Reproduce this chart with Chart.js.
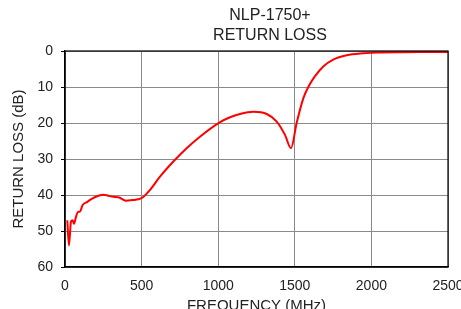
<!DOCTYPE html>
<html>
<head>
<meta charset="utf-8">
<script src="https://cdn.jsdelivr.net/npm/chart.js@4"></script>
<style>
  html,body{margin:0;padding:0;background:#fff;}
  #wrap{width:461px;height:309px;}
</style>
</head>
<body>
<div id="wrap"><canvas id="rl"></canvas></div>
<script>
// ---- data ----
const titleLines = ["NLP-1750+", "RETURN LOSS"];
const freqMHz = [15, 26, 39, 50, 59, 72, 85, 98, 115, 146, 174, 218, 250, 283, 315, 348, 398, 442, 479, 507, 555, 620,
  707, 794, 881, 1007, 1077, 1142, 1229, 1317, 1382, 1436, 1475, 1512, 1556, 1588, 1632, 1686, 1751, 1839, 1947, 2045, 2200, 2350, 2500];
const returnLossDb = [47, 54, 47.4, 47, 48, 46, 44.7, 44.6, 42.8, 41.9, 41.1, 40.2, 39.9, 40.2, 40.5, 40.6, 41.6, 41.4, 41.2, 40.7, 38.6, 34.9,
  30.7, 27.0, 23.8, 19.9, 18.4, 17.5, 16.9, 17.5, 19.6, 23.3, 27.0, 20.0, 13.1, 10.0, 7.0, 4.3, 2.4, 1.2, 0.65, 0.4, 0.32, 0.3, 0.3];
const xTicks = [0, 500, 1000, 1500, 2000, 2500];
const yTicks = [0, 10, 20, 30, 40, 50, 60];

const FONT = "'Liberation Sans', Arial, Helvetica, sans-serif";

// title + black frame drawn by hand
const framePlugin = {
  id: "frame",
  afterDraw(chart){
    const {ctx, chartArea:a} = chart;
    ctx.save();
    ctx.strokeStyle = "#000";
    ctx.lineWidth = 1.2;
    ctx.strokeRect(a.left, a.top, a.right - a.left, a.bottom - a.top);
    ctx.fillStyle = "#222";
    ctx.font = "16px " + FONT;
    ctx.textAlign = "center";
    ctx.textBaseline = "middle";
    ctx.fillText(titleLines[0], 270, 16);
    ctx.fillText(titleLines[1], 270, 36);
    ctx.restore();
  }
};

new Chart(document.getElementById("rl"), {
  type: "line",
  data: {
    datasets: [{
      data: freqMHz.map((f, i) => ({x: f, y: returnLossDb[i]})),
      borderColor: "#ff0000",
      borderWidth: 2,
      pointRadius: 0,
      cubicInterpolationMode: "monotone",
      fill: false
    }]
  },
  options: {
    responsive: true,
    maintainAspectRatio: false,
    animation: false,
    layout: { padding: { top: 51, right: 13, left: 0, bottom: 0 } },
    plugins: { legend: { display: false }, tooltip: { enabled: false } },
    scales: {
      x: {
        type: "linear",
        min: 0, max: 2500,
        afterBuildTicks: s => { s.ticks = xTicks.map(v => ({value: v})); },
        afterFit: s => { s.height = 42; s.paddingLeft = 0; s.paddingRight = 0; },
        grid: { color: "#8a8a8a", lineWidth: 1, drawTicks: false },
        border: { color: "#000", width: 1.2 },
        ticks: { color: "#222", font: { family: FONT, size: 14 }, padding: 11, maxRotation: 0,
                 callback: v => String(v) },
        title: { display: true, text: "FREQUENCY (MHz)", color: "#222",
                 font: { family: FONT, size: 15 }, padding: { top: 0, bottom: -6 } }
      },
      y: {
        reverse: true,
        min: 0, max: 60,
        afterBuildTicks: s => { s.ticks = yTicks.map(v => ({value: v})); },
        afterFit: s => { s.width = 65; },
        grid: { color: "#8a8a8a", lineWidth: 1, tickLength: 4, tickColor: "#000" },
        border: { color: "#000", width: 1.2 },
        ticks: { color: "#222", font: { family: FONT, size: 14 }, padding: 8,
                 callback: v => String(v) },
        title: { display: true, text: "RETURN LOSS (dB)", color: "#222",
                 font: { family: FONT, size: 15 }, padding: { top: 10, bottom: 2 } }
      }
    }
  },
  plugins: [framePlugin]
});
</script>
</body>
</html>
